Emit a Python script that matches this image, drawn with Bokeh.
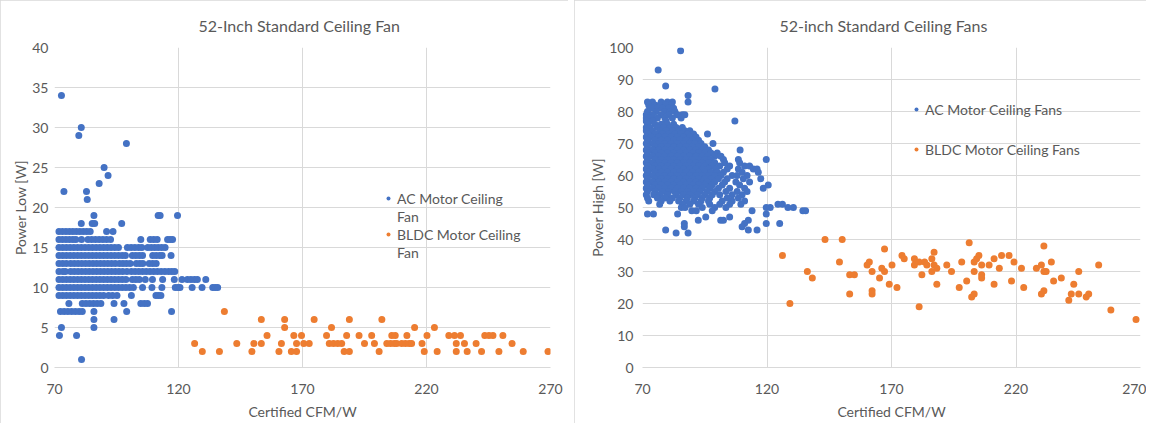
from bokeh.plotting import figure
from bokeh.layouts import row
from bokeh.models import FixedTicker, Legend, LegendItem, Range1d
from bokeh.embed import file_html
from bokeh.resources import INLINE

FONT = "Lato"
TXT = "#595959"
GRID = "#d9d9d9"
BLUE = "#4472C4"
ORANGE = "#ED7D31"

x_ticks = [70, 120, 170, 220, 270]
low_ticks = [0, 5, 10, 15, 20, 25, 30, 35, 40]
high_ticks = [0, 10, 20, 30, 40, 50, 60, 70, 80, 90, 100]

# ---- Left chart: Power Low vs CFM/W, AC motors (rows of equal power) ----
low_ac_rows = {
    34: [72.8],
    30: [80.8],
    29: [79.8],
    28: [99.0],
    25: [90.0],
    24: [91.6],
    23: [88.0],
    22: [73.8, 82.9],
    21: [83.2],
    19: [85.9, 111.8, 112.6, 119.6],
    18: [80.8, 85.2, 86.2, 97.1],
    17: [71.8, 73.2, 74.6, 76.0, 77.4, 78.8, 80.2, 81.6, 83.0, 84.4, 91.0, 93.6],
    16: [71.8, 73.2, 74.6, 76.0, 77.4, 78.6, 80.9, 83.5, 85.0, 86.5, 88.0, 89.5,
         91.0, 92.6, 104.8, 108.6, 110.0, 111.4, 115.6, 116.6, 117.6],
    15: [71.8, 73.3, 74.8, 76.3, 77.8, 79.3, 80.8, 82.3, 83.8, 85.3, 86.8, 88.3,
         89.8, 91.3, 92.8, 94.3, 95.8, 99.4, 100.9, 102.4, 103.9, 105.2, 107.6,
         109.0, 110.4, 111.8, 113.2, 114.6],
    14: [71.8, 73.3, 74.8, 76.3, 77.8, 79.3, 80.8, 82.3, 83.8, 85.3, 86.8, 88.3,
         89.8, 91.3, 92.8, 94.3, 95.8, 97.3, 98.6, 101.4, 102.8, 104.2, 105.5,
         109.6, 111.0, 112.4, 113.4, 117.0],
    13: [71.8, 73.3, 74.8, 76.5, 78.0, 79.5, 81.0, 82.5, 84.0, 85.5, 87.0, 88.5,
         90.0, 91.5, 93.0, 94.5, 96.2, 97.6, 99.0, 100.5, 103.0, 104.4, 105.6,
         108.2, 109.6, 111.0],
    12: [71.8, 73.4, 74.4, 76.5, 78.0, 79.5, 81.0, 82.5, 84.0, 85.5, 87.0, 88.5,
         90.0, 91.5, 93.0, 94.5, 96.0, 97.5, 99.2, 101.0, 102.5, 104.0, 105.5,
         107.0, 108.5, 110.0, 111.5, 113.0, 114.5, 116.0, 117.3, 118.5],
    11: [71.8, 73.3, 74.8, 76.3, 77.8, 79.3, 80.8, 82.3, 83.8, 85.3, 86.8, 88.3,
         89.8, 91.3, 92.8, 94.3, 95.8, 97.3, 98.8, 101.4, 102.8, 104.2, 106.6,
         109.5, 113.6, 118.3, 121.4, 123.6, 125.0, 126.4, 127.6, 131.0],
    10: [71.8, 73.3, 74.8, 76.3, 77.8, 79.3, 80.8, 82.3, 83.8, 85.3, 86.8, 88.3,
         89.8, 91.3, 92.8, 94.3, 95.8, 97.3, 98.8, 100.3, 101.8, 105.5, 109.3,
         113.3, 118.7, 119.8, 120.6, 125.5, 129.5, 133.8, 134.8, 135.8],
    9: [71.8, 73.3, 74.8, 76.3, 77.8, 79.3, 80.8, 82.3, 83.8, 85.3, 86.8, 88.3,
        89.8, 91.8, 93.4, 95.2, 101.0, 110.9, 111.9, 112.9],
    8: [75.8, 81.2, 82.7, 84.2, 85.7, 87.2, 88.7, 94.0, 98.0, 104.8, 106.2, 107.5],
    7: [72.4, 73.9, 75.4, 76.9, 78.4, 79.9, 81.2, 85.9, 99.1, 117.2],
    6: [85.9, 94.0],
    5: [72.8, 85.9],
    4: [72.0, 78.9],
    1: [80.9],
}

# ---- Left chart: BLDC motors ----
low_bldc_rows = {
    7: [138.5],
    6: [153.4, 162.8, 174.7, 188.9, 202.0],
    5: [162.8, 181.7, 215.2, 223.2],
    4: [155.7, 166.5, 169.6, 179.7, 187.8, 192.8, 197.9, 206.0, 207.4, 212.1,
        220.2, 229.0, 231.3, 233.7, 243.5, 245.2, 246.8, 250.8],
    3: [126.5, 143.5, 150.4, 153.4, 161.5, 167.6, 170.5, 172.7, 180.8, 182.5,
        184.2, 185.8, 195.0, 199.0, 204.0, 205.5, 207.0, 208.0, 210.0, 211.5,
        213.0, 214.0, 218.2, 232.0, 235.3, 240.0, 254.5],
    2: [129.6, 136.5, 149.6, 160.5, 165.5, 167.6, 186.8, 188.9, 200.9, 219.1,
        224.3, 232.0, 236.4, 242.2, 249.2, 259.0, 269.0],
}

# ---- Right chart: Power High vs CFM/W, AC motors ----
high_ac_rows = {
    99: [85.3],
    93: [76.3],
    88: [79.3],
    87: [99.1],
    85: [88.3],
    83: [72.0, 74.0, 77.5, 80.0, 82.0, 88.3],
    82: [72.5, 75.0, 77.0, 79.5, 81.5],
    81: [73.0, 74.5, 76.0, 78.0, 80.5, 82.5],
    80: [72.0, 75.5, 79.0, 81.0, 83.0],
    79: [71.5, 74.0, 77.5, 80.5, 84.0, 86.0, 87.0],
    78: [71.5, 73.0, 76.0, 79.0, 82.0, 85.5],
    77: [71.5, 74.0, 79.5, 107.1],
    76: [72.0, 75.0, 77.5, 80.0, 82.5],
    75: [71.5, 73.0, 76.0, 78.5, 81.0, 83.5, 86.0],
    74: [71.5, 74.0, 77.0, 79.5, 82.0, 84.5, 87.0, 89.0],
    73: [72.0, 75.0, 78.0, 80.5, 83.0, 85.5, 88.0, 90.5, 96.1],
    72: [71.5, 73.5, 76.5, 79.0, 81.5, 84.0, 86.5, 89.0, 91.5],
    71: [72.0, 75.0, 77.5, 80.0, 82.5, 85.0, 87.5, 90.0, 92.5],
    70: [71.5, 74.0, 76.5, 79.0, 81.5, 84.0, 86.5, 89.0, 91.0, 93.5, 98.3],
    69: [72.0, 75.0, 77.5, 80.0, 82.5, 85.0, 87.5, 90.0, 92.5, 95.0],
    68: [71.5, 74.0, 76.5, 79.0, 81.5, 84.0, 86.5, 89.0, 91.5, 94.0, 96.5, 109.2],
    67: [72.0, 75.0, 77.5, 80.0, 82.5, 85.0, 87.5, 90.0, 92.5, 95.0, 97.5, 100.0],
    66: [71.5, 74.0, 76.5, 79.0, 81.5, 84.0, 86.5, 89.0, 91.5, 94.0, 96.0, 99.0, 101.5],
    65: [72.0, 75.0, 77.5, 80.0, 82.5, 85.0, 87.5, 90.0, 92.5, 95.0, 97.5, 102.5,
         108.5, 119.7],
    64: [71.5, 74.0, 76.5, 79.0, 81.5, 84.0, 86.5, 89.0, 91.5, 94.0, 96.5, 99.0,
         103.0, 109.0],
    63: [72.0, 75.0, 77.5, 80.0, 82.5, 85.0, 87.5, 90.0, 92.5, 95.0, 98.0, 101.0,
         105.0, 111.0, 113.0],
    62: [71.5, 74.0, 76.5, 79.0, 81.5, 84.0, 86.5, 89.0, 91.5, 94.0, 96.5, 99.5,
         104.0, 108.5, 114.5, 116.0],
    61: [72.0, 75.0, 77.5, 80.0, 82.5, 85.0, 87.5, 90.0, 92.5, 95.0, 97.5, 100.0,
         102.5, 110.0, 116.5],
    60: [71.5, 74.0, 76.5, 79.0, 81.5, 84.0, 86.5, 89.0, 91.5, 94.0, 96.5, 99.0,
         101.5, 106.0, 108.0, 112.0],
    59: [72.0, 75.0, 77.5, 80.0, 82.5, 85.0, 87.5, 90.0, 92.5, 95.0, 97.5, 100.5,
         104.0, 110.5, 117.5],
    58: [71.5, 74.0, 76.5, 79.0, 81.5, 84.0, 86.5, 89.0, 91.5, 94.0, 96.0, 99.0,
         103.0, 107.5, 113.0],
    57: [72.0, 75.0, 77.5, 80.0, 82.5, 85.0, 87.5, 90.0, 92.5, 95.0, 98.0, 102.0,
         109.0, 120.5],
    56: [71.5, 74.0, 76.5, 79.0, 81.5, 84.0, 86.5, 89.0, 91.5, 94.0, 97.0, 100.5,
         105.0, 111.0, 118.5],
    55: [72.0, 75.0, 78.0, 80.5, 83.0, 85.5, 88.0, 90.5, 93.0, 96.0, 99.0, 103.5,
         108.0, 112.0],
    54: [71.5, 74.5, 77.0, 80.0, 83.5, 86.5, 89.0, 92.0, 95.0, 98.0, 101.0, 106.0, 110.0],
    53: [72.0, 76.0, 79.0, 82.0, 85.0, 88.0, 91.0, 94.0, 97.0, 104.0, 108.5],
    52: [72.5, 77.5, 81.0, 84.5, 87.5, 90.5, 93.5, 96.5, 102.0, 106.0, 111.0],
    51: [76.9, 86.0, 89.0, 92.5, 97.0, 101.0, 105.0, 109.5, 124.4, 126.2],
    50: [85.6, 87.1, 94.0, 99.0, 103.5, 119.7, 121.3, 128.4, 130.6],
    49: [89.8, 91.6, 98.0, 114.0, 134.4, 135.5],
    48: [72.0, 74.4, 84.1, 119.7],
    47: [95.4, 105.0],
    46: [92.4, 101.4, 102.5, 112.5],
    45: [86.8, 111.0, 119.7, 125.1],
    44: [86.8, 110.0],
    43: [79.3, 112.5, 116.0],
    42: [83.5, 88.3],
}

# ---- Right chart: BLDC motors ----
high_bldc_x = [126.2, 129.2, 136.2, 138.2, 143.3, 150.2, 149.1, 153.2, 155.1, 153.2,
               160.2, 161.1, 162.2, 162.2, 162.2, 165.2, 166.1, 167.2, 167.2, 169.1,
               170.2, 172.2, 174.2, 175.1, 179.2, 179.2, 181.1, 181.1, 182.2, 183.3,
               184.2, 186.2, 187.1, 186.2, 187.1, 188.2, 188.2, 192.2, 194.1, 197.2,
               198.2, 200.2, 201.2, 202.2, 203.2, 203.2, 204.2, 205.1, 203.2, 206.2,
               206.2, 206.2, 209.2, 211.2, 211.2, 213.3, 214.2, 217.2, 218.2, 219.2,
               222.2, 223.1, 228.2, 230.2, 230.2, 231.2, 231.2, 231.2, 232.1, 234.2,
               235.1, 238.2, 241.2, 242.2, 243.2, 245.2, 245.2, 248.2, 249.2, 253.2,
               258.1, 268.2]
high_bldc_y = [35, 20, 30, 28, 40, 40, 33, 29, 29, 23,
               32, 33, 30, 24, 23, 28, 31, 30, 37, 26,
               32, 25, 35, 34, 34, 32, 33, 19, 29, 33,
               32, 34, 36, 30, 32, 31, 26, 32, 30, 25,
               33, 27, 39, 22, 23, 33, 34, 35, 30, 32,
               29, 28, 32, 26, 34, 31, 35, 35, 27, 33,
               31, 25, 31, 32, 23, 24, 38, 30, 30, 33,
               27, 28, 21, 23, 26, 30, 23, 22, 23, 32,
               18, 15]


def flatten(rows):
    xs, ys = [], []
    for yv, xl in rows.items():
        for xv in xl:
            xs.append(xv)
            ys.append(yv)
    return xs, ys


def make_fig(title, ylabel, ymax, yticks, width, fw, bl, br, toffset, ystand, ylab_stand):
    p = figure(width=width, height=423, frame_width=fw, frame_height=320,
               x_range=Range1d(70, 270), y_range=Range1d(0, ymax),
               output_backend="svg", toolbar_location=None,
               min_border_left=bl, min_border_right=br,
               min_border_top=47, min_border_bottom=56)
    p.title.text = title
    p.title.align = "left"
    p.title.offset = toffset
    p.title.text_font = FONT
    p.title.text_font_size = "16px"
    p.title.text_font_style = "normal"
    p.title.text_color = TXT
    p.title.standoff = 26
    p.outline_line_color = None
    p.background_fill_color = "white"
    p.border_fill_color = "white"
    p.styles = {"outline": "1px solid #d9d9d9", "outline-offset": "-1px"}

    p.xaxis.ticker = FixedTicker(ticks=x_ticks)
    p.yaxis.ticker = FixedTicker(ticks=yticks)
    for ax in (p.xaxis, p.yaxis):
        ax.axis_line_color = None
        ax.major_tick_line_color = None
        ax.minor_tick_line_color = None
        ax.major_tick_out = 0
        ax.major_tick_in = 0
        ax.minor_tick_out = 0
        ax.minor_tick_in = 0
        ax.major_label_text_font = FONT
        ax.major_label_text_font_size = "14px"
        ax.major_label_text_color = TXT
        ax.axis_label_text_font = FONT
        ax.axis_label_text_font_size = "14px"
        ax.axis_label_text_font_style = "normal"
        ax.axis_label_text_color = TXT
    p.xaxis.axis_line_color = GRID
    p.xaxis.axis_label = "Certified CFM/W"
    p.yaxis.axis_label = ylabel
    p.xaxis.major_label_standoff = 16
    p.yaxis.major_label_standoff = ystand
    p.xaxis.axis_label_standoff = 6
    p.yaxis.axis_label_standoff = ylab_stand
    p.xgrid.grid_line_color = GRID
    p.ygrid.grid_line_color = GRID
    return p


def style_legend(lg):
    lg.background_fill_alpha = 0
    lg.border_line_color = None
    lg.padding = 0
    lg.margin = 0
    lg.glyph_width = 10
    lg.glyph_height = 14
    lg.label_standoff = 4
    lg.label_text_font = FONT
    lg.label_text_font_size = "14px"
    lg.label_text_color = TXT


p1 = make_fig("52-Inch Standard Ceiling Fan", "Power Low [W]", 40, low_ticks,
              568, 496, 54, 18, 144, 6, 0)
ax_, ay_ = flatten(low_ac_rows)
bx_, by_ = flatten(low_bldc_rows)
r1 = p1.scatter(ax_, ay_, size=7, color=BLUE, line_color=None)
r2 = p1.scatter(bx_, by_, size=7, color=ORANGE, line_color=None)
blank = p1.scatter([], [], size=7, fill_alpha=0, line_alpha=0)
leg1 = Legend(items=[LegendItem(label="AC Motor Ceiling", renderers=[r1]),
                     LegendItem(label="Fan", renderers=[blank]),
                     LegendItem(label="BLDC Motor Ceiling", renderers=[r2]),
                     LegendItem(label="Fan", renderers=[blank])],
              location=(329, 106))
style_legend(leg1)
leg1.spacing = 0
leg1.label_height = 18
p1.add_layout(leg1, "center")

p2 = make_fig("52-inch Standard Ceiling Fans", "Power High [W]", 100, high_ticks,
              572, 498, 68, 6, 137, 9, 0)
cx_, cy_ = flatten(high_ac_rows)
r3 = p2.scatter(cx_, cy_, size=7, color=BLUE, line_color=None)
r4 = p2.scatter(high_bldc_x, high_bldc_y, size=7, color=ORANGE, line_color=None)
leg2 = Legend(items=[LegendItem(label="AC Motor Ceiling Fans", renderers=[r3]),
                     LegendItem(label="BLDC Motor Ceiling Fans", renderers=[r4])],
              location=(269, 208))
style_legend(leg2)
leg2.spacing = 20
leg2.label_height = 20
p2.add_layout(leg2, "center")

layout = row(p1, p2, spacing=6)
open("out.html", "w").write(file_html(layout, INLINE))
